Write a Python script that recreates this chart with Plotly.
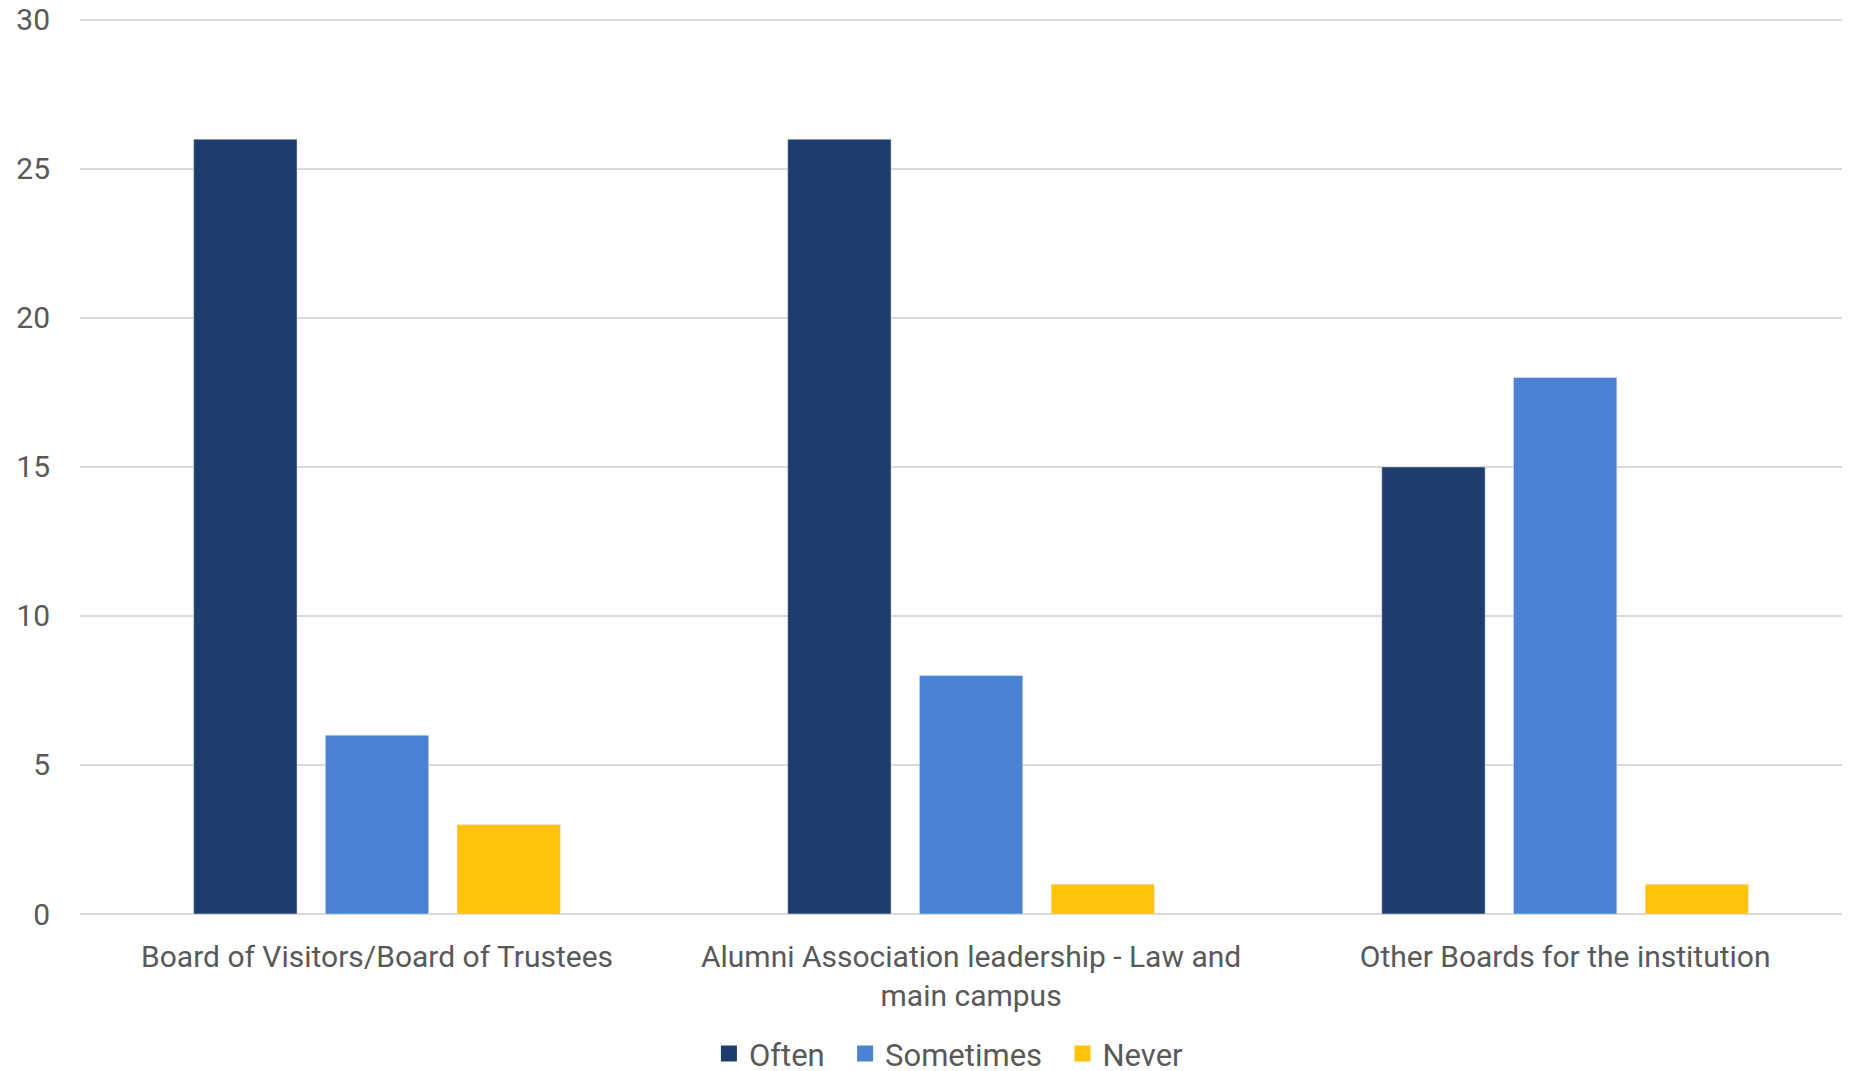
import plotly.graph_objects as go

categories = [
    "Board of Visitors/Board of Trustees",
    "Alumni Association leadership - Law and<br>main campus",
    "Other Boards for the institution",
]
series_names = ["Often", "Sometimes", "Never"]
often = [26, 26, 15]
sometimes = [6, 8, 18]
never = [3, 1, 1]
colors = ["#1E3C6C", "#4A83D4", "#FFC30B"]

fig = go.Figure()

for name, values, color in zip(series_names, [often, sometimes, never], colors):
    fig.add_trace(go.Bar(
        x=categories, y=values, name=name,
        marker_color=color, showlegend=False,
    ))

# Bigger square legend keys, like the Excel original
# (non-breaking spaces widen the gap between entries)
for name, color in zip(series_names, colors):
    label = name if name == series_names[-1] else name + "\u00a0\u00a0"
    fig.add_trace(go.Scatter(
        x=[None], y=[None], mode="markers", name=label,
        marker=dict(symbol="square", size=17, color=color),
    ))

# note: the html body adds an 8px offset, margins account for it
fig.update_layout(
    width=1850,
    height=1071,
    margin=dict(l=72, r=0, t=6, b=164.5),
    paper_bgcolor="white",
    plot_bgcolor="white",
    font=dict(family="Roboto", size=30, color="#595959"),
    barmode="group",
    bargap=0.335,
    bargroupgap=0.215,
    showlegend=True,
    legend=dict(
        orientation="h",
        xref="container",
        yref="container",
        x=0.5086,
        xanchor="center",
        y=0.0235,
        yanchor="middle",
        itemsizing="trace",
        font=dict(size=31, color="#595959"),
    ),
    xaxis=dict(
        range=[-0.5, 2.493],
        showgrid=False,
        showline=False,
        ticks="",
        ticklabelstandoff=22,
        automargin=False,
    ),
    yaxis=dict(
        range=[0, 30.2],
        tickvals=[0, 5, 10, 15, 20, 25, 30],
        showgrid=True,
        gridcolor="#D9D9D9",
        gridwidth=2,
        zeroline=True,
        zerolinecolor="#D9D9D9",
        zerolinewidth=2,
        ticks="",
        ticklabelstandoff=29,
        ticklabeloverflow="allow",
        automargin=False,
    ),
)

fig.write_html("out.html")
